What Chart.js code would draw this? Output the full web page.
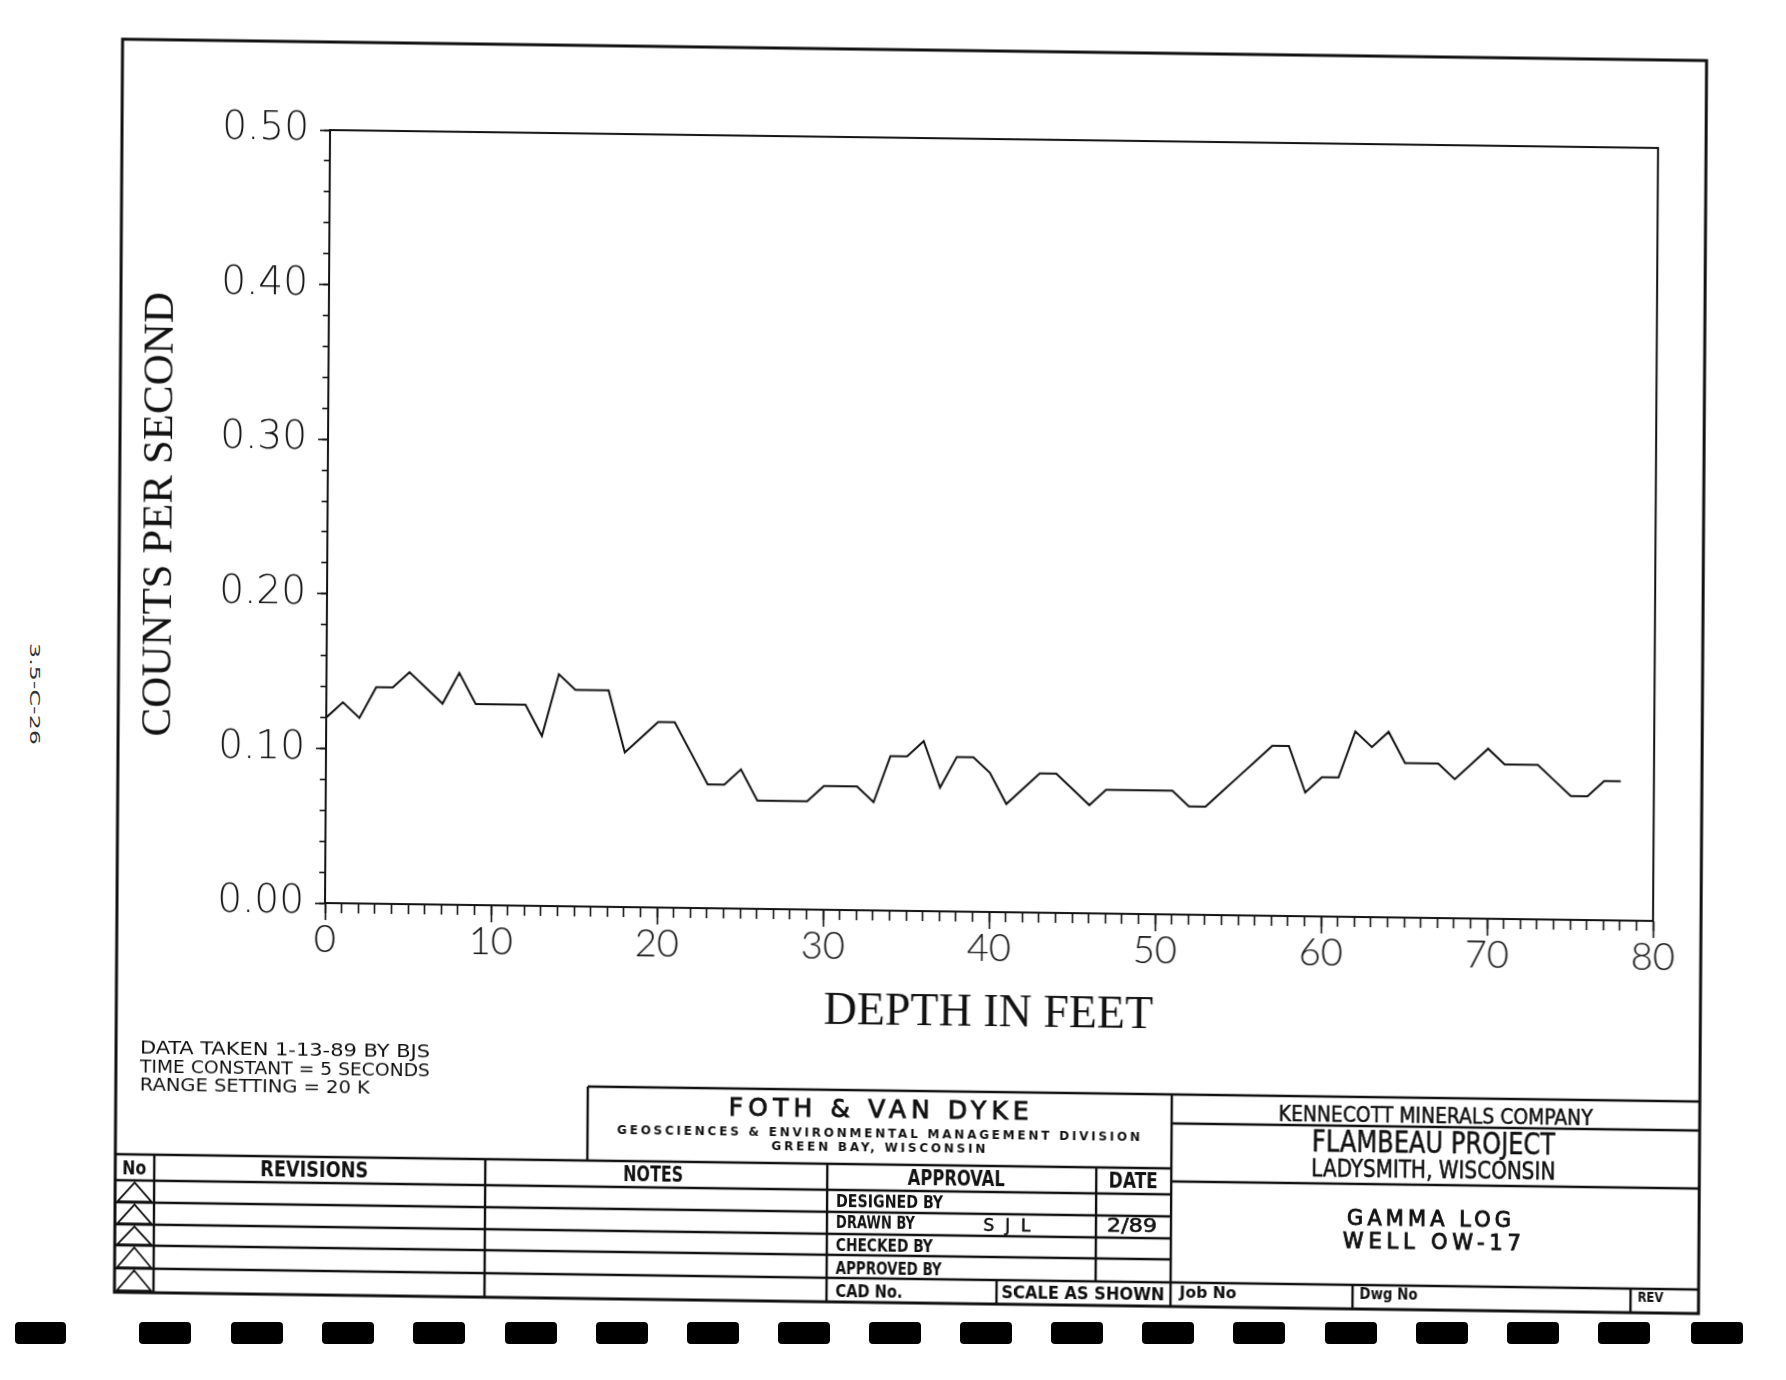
<!DOCTYPE html>
<html lang="en">
<head>
<meta charset="utf-8">
<title>Gamma Log - Well OW-17</title>
<script src="https://cdn.jsdelivr.net/npm/chart.js@4.4.1/dist/chart.umd.min.js"></script>
<style>
    html, body { margin: 0; padding: 0; background: #fff; }
    body { position: relative; width: 1786px; height: 1380px; overflow: hidden; }

    /* the scanned sheet is a bit crooked, so everything drawn on it gets the same shear */
    #sheet {
        position: absolute; left: 0; top: 0; width: 1786px; height: 1380px;
        transform-origin: 325px 903px;
        transform: matrix(1, 0.0135, -0.0065, 1, 0, 0);
    }
    #plot { position: absolute; left: 120px; top: 60px; }
    svg { position: absolute; left: 0; top: 0; }
    #block text { font-family: "DejaVu Sans Condensed", "DejaVu Sans", sans-serif; fill: #111; }
    #block .b { font-weight: bold; }
    #block .w { font-family: "DejaVu Sans", sans-serif; }
    #block .m { stroke: #111; stroke-width: 0.5px; }
    #block .h { stroke: #111; stroke-width: 0.9px; }
</style>
</head>
<body>

<svg id="margin" width="1786" height="1380">
    <text transform="translate(30 694) rotate(90)" text-anchor="middle" font-family="DejaVu Sans" font-size="14"
          textLength="102" lengthAdjust="spacingAndGlyphs" fill="#333">3.5-C-26</text>
    <g fill="#000">
        <rect x="15" y="1322" width="51" height="22" rx="4"/>
        <rect x="139" y="1322" width="52" height="22" rx="4"/>
        <rect x="231" y="1322" width="52" height="22" rx="4"/>
        <rect x="322" y="1322" width="52" height="22" rx="4"/>
        <rect x="413" y="1322" width="52" height="22" rx="4"/>
        <rect x="505" y="1322" width="52" height="22" rx="4"/>
        <rect x="596" y="1322" width="52" height="22" rx="4"/>
        <rect x="687" y="1322" width="52" height="22" rx="4"/>
        <rect x="778" y="1322" width="52" height="22" rx="4"/>
        <rect x="869" y="1322" width="52" height="22" rx="4"/>
        <rect x="960" y="1322" width="52" height="22" rx="4"/>
        <rect x="1051" y="1322" width="52" height="22" rx="4"/>
        <rect x="1142" y="1322" width="52" height="22" rx="4"/>
        <rect x="1233" y="1322" width="52" height="22" rx="4"/>
        <rect x="1325" y="1322" width="52" height="22" rx="4"/>
        <rect x="1416" y="1322" width="52" height="22" rx="4"/>
        <rect x="1507" y="1322" width="52" height="22" rx="4"/>
        <rect x="1598" y="1322" width="52" height="22" rx="4"/>
        <rect x="1691" y="1322" width="52" height="22" rx="4"/>
    </g>
</svg>

<div id="sheet">
    <canvas id="plot" width="1580" height="980"></canvas>

    <svg id="block" width="1786" height="1380">
        <g fill="none" stroke="#111">
            <rect x="117" y="42" width="1584" height="1253" stroke-width="3"/>
            <path stroke-width="2.4" d="M589 1083H1701 M589 1083V1157
                M117 1157H1173 M117 1183H1173 M117 1205H1173 M117 1227H1173 M117 1248H1173 M117 1271H1701
                M156 1157V1295 M487 1157V1295 M829 1157V1295 M1098 1157V1271 M999 1271V1295
                M1173 1083V1295 M1173 1112H1701 M1173 1170H1701 M1355 1271V1295 M1633 1271V1295"/>
            <path stroke-width="1.8" d="M136.5 1185L119.5 1204L153.5 1204Z M136.5 1207L119.5 1226L153.5 1226Z
                M136.5 1229L119.5 1247L153.5 1247Z M136.5 1250L119.5 1270L153.5 1270Z
                M136.5 1273L119.5 1293L153.5 1293Z"/>
        </g>

        <text x="141" y="1056" font-size="18" textLength="290" lengthAdjust="spacingAndGlyphs">DATA TAKEN 1-13-89 BY BJS</text>
        <text x="141" y="1075" font-size="18" textLength="290" lengthAdjust="spacingAndGlyphs">TIME CONSTANT = 5 SECONDS</text>
        <text x="141" y="1093" font-size="18" textLength="230" lengthAdjust="spacingAndGlyphs">RANGE SETTING = 20 K</text>

        <text class="w h" x="880" y="1110" font-size="25" text-anchor="middle" textLength="300" lengthAdjust="spacing">FOTH &amp; VAN DYKE</text>
        <text class="w b" x="880" y="1130" font-size="12" text-anchor="middle" textLength="523" lengthAdjust="spacing">GEOSCIENCES &amp; ENVIRONMENTAL MANAGEMENT DIVISION</text>
        <text class="w b" x="880" y="1144" font-size="12" text-anchor="middle" textLength="214" lengthAdjust="spacing">GREEN BAY, WISCONSIN</text>

        <text class="b" x="136" y="1177" font-size="20" text-anchor="middle" textLength="24" lengthAdjust="spacingAndGlyphs">No</text>
        <text class="b" x="316" y="1177" font-size="22" text-anchor="middle" textLength="108" lengthAdjust="spacingAndGlyphs">REVISIONS</text>
        <text class="b" x="655" y="1177" font-size="22" text-anchor="middle" textLength="60" lengthAdjust="spacingAndGlyphs">NOTES</text>
        <text class="b" x="958" y="1177" font-size="22" text-anchor="middle" textLength="97" lengthAdjust="spacingAndGlyphs">APPROVAL</text>
        <text class="b" x="1135" y="1177" font-size="22" text-anchor="middle" textLength="49" lengthAdjust="spacingAndGlyphs">DATE</text>

        <text class="b" x="838" y="1199.5" font-size="18" textLength="107" lengthAdjust="spacingAndGlyphs">DESIGNED BY</text>
        <text class="b" x="838" y="1221" font-size="18" textLength="79" lengthAdjust="spacingAndGlyphs">DRAWN BY</text>
        <text class="w m" x="1009" y="1222" font-size="17" text-anchor="middle" textLength="47" lengthAdjust="spacing">SJL</text>
        <text class="m" x="1134" y="1221" font-size="19" text-anchor="middle" textLength="50" lengthAdjust="spacingAndGlyphs">2/89</text>
        <text class="b" x="838" y="1244" font-size="18" textLength="97" lengthAdjust="spacingAndGlyphs">CHECKED BY</text>
        <text class="b" x="838" y="1266.5" font-size="18" textLength="106" lengthAdjust="spacingAndGlyphs">APPROVED BY</text>
        <text class="b" x="838" y="1290" font-size="18" textLength="67" lengthAdjust="spacingAndGlyphs">CAD No.</text>
        <text class="b" x="1004" y="1289" font-size="18" textLength="163" lengthAdjust="spacingAndGlyphs">SCALE AS SHOWN</text>

        <text class="m" x="1437" y="1108" font-size="22" text-anchor="middle" textLength="314" lengthAdjust="spacingAndGlyphs">KENNECOTT MINERALS COMPANY</text>
        <text class="m" x="1435" y="1138" font-size="30" text-anchor="middle" textLength="243" lengthAdjust="spacingAndGlyphs">FLAMBEAU PROJECT</text>
        <text class="m" x="1435" y="1163" font-size="25" text-anchor="middle" textLength="244" lengthAdjust="spacingAndGlyphs">LADYSMITH, WISCONSIN</text>
        <text class="w h" x="1431" y="1211" font-size="21" text-anchor="middle" textLength="164" lengthAdjust="spacing">GAMMA LOG</text>
        <text class="w h" x="1434" y="1234" font-size="21" text-anchor="middle" textLength="178" lengthAdjust="spacing">WELL OW-17</text>
        <text class="b" x="1182" y="1286" font-size="16" textLength="57" lengthAdjust="spacingAndGlyphs">Job No</text>
        <text class="b" x="1362" y="1285" font-size="16" textLength="58" lengthAdjust="spacingAndGlyphs">Dwg No</text>
        <text class="b" x="1640" y="1284" font-size="14" textLength="26" lengthAdjust="spacingAndGlyphs">REV</text>
    </svg>
</div>

<script>
// gamma log, one reading per foot of depth
const depthFt = [
    0, 1, 2, 3, 4, 5, 6, 7, 8, 9,
    10, 11, 12, 13, 14, 15, 16, 17, 18, 19,
    20, 21, 22, 23, 24, 25, 26, 27, 28, 29,
    30, 31, 32, 33, 34, 35, 36, 37, 38, 39,
    40, 41, 42, 43, 44, 45, 46, 47, 48, 49,
    50, 51, 52, 53, 54, 55, 56, 57, 58, 59,
    60, 61, 62, 63, 64, 65, 66, 67, 68, 69,
    70, 71, 72, 73, 74, 75, 76, 77, 78
];
const countsPerSec = [
    0.12, 0.13, 0.12, 0.14, 0.14, 0.15, 0.14, 0.13, 0.15, 0.13,
    0.13, 0.13, 0.13, 0.11, 0.15, 0.14, 0.14, 0.14, 0.10, 0.11,
    0.12, 0.12, 0.10, 0.08, 0.08, 0.09, 0.07, 0.07, 0.07, 0.07,
    0.08, 0.08, 0.08, 0.07, 0.10, 0.10, 0.11, 0.08, 0.10, 0.10,
    0.09, 0.07, 0.08, 0.09, 0.09, 0.08, 0.07, 0.08, 0.08, 0.08,
    0.08, 0.08, 0.07, 0.07, 0.08, 0.09, 0.10, 0.11, 0.11, 0.08,
    0.09, 0.09, 0.12, 0.11, 0.12, 0.10, 0.10, 0.10, 0.09, 0.10,
    0.11, 0.10, 0.10, 0.10, 0.09, 0.08, 0.08, 0.09, 0.09
];

const xTickValues = [0, 10, 20, 30, 40, 50, 60, 70, 80];
const xTickLabels = ["0", "10", "20", "30", "40", "50", "60", "70", "80"];
const yTickValues = [0, 0.1, 0.2, 0.3, 0.4, 0.5];
const yTickLabels = ["0.00", "0.10", "0.20", "0.30", "0.40", "0.50"];

const ink = "#111";
const tickFont = { family: "Lato, 'DejaVu Sans', sans-serif", weight: 300, size: 38, lineHeight: 1 };
const yFont = { family: "'DejaVu Sans', Lato, sans-serif", weight: 200, size: 39, lineHeight: 1 };
const serif = "'Liberation Serif', 'Times New Roman', serif";

// a scale that only draws a tick row (or a plain edge) and takes no room
function thin(position, max, opts) {
    return Object.assign({
        type: "linear", position, min: 0, max, weight: 0,
        afterFit: s => { if (s.isHorizontal()) s.height = 0; else s.width = 0; },
        ticks: { display: false },
        grid: { display: false },
        border: { color: ink, width: 2 }
    }, opts);
}

new Chart(document.getElementById("plot"), {
    type: "line",
    data: {
        datasets: [{
            data: depthFt.map((d, i) => ({ x: d, y: countsPerSec[i] })),
            borderColor: ink,
            borderWidth: 2,
            pointRadius: 0,
            tension: 0,
            fill: false
        }]
    },
    options: {
        responsive: false,
        animation: false,
        events: [],
        layout: { padding: { top: 70, right: 47, bottom: 0, left: 0 } },
        plugins: { legend: { display: false }, tooltip: { enabled: false } },
        scales: {
            x: {
                type: "linear", position: "bottom", weight: 1, min: 0, max: 80,
                afterBuildTicks: s => { s.ticks = xTickValues.map(value => ({ value })); },
                afterFit: s => { s.height = 137; },
                ticks: { color: ink, font: tickFont, padding: 1, maxRotation: 0, autoSkip: false,
                         callback: (v, i) => xTickLabels[i] },
                grid: { drawOnChartArea: false, tickLength: 17, tickWidth: 1.6, tickColor: ink },
                border: { color: ink, width: 2 },
                title: { display: true, text: "DEPTH IN FEET", color: ink,
                         font: { family: serif, size: 46, lineHeight: 1.2 }, padding: { top: 0, bottom: 7 } }
            },
            y: {
                type: "linear", position: "left", weight: 1, min: 0, max: 0.5,
                afterBuildTicks: s => { s.ticks = yTickValues.map(value => ({ value })); },
                afterFit: s => { s.width = 205; },
                ticks: { color: ink, font: yFont, padding: 11, callback: (v, i) => yTickLabels[i] },
                grid: { drawOnChartArea: false, tickLength: 10, tickWidth: 1.6, tickColor: ink },
                border: { color: ink, width: 2 },
                title: { display: true, text: "COUNTS PER SECOND", color: ink,
                         font: { family: serif, size: 43, lineHeight: 1.2 }, padding: { top: 12, bottom: 0 } }
            },
            xMinor: thin("bottom", 80, {
                ticks: { display: false, stepSize: 1 },
                grid: { display: true, drawOnChartArea: false, tickLength: 10, tickWidth: 1.6, tickColor: ink },
                border: { display: false }
            }),
            yMinor: thin("left", 0.5, {
                ticks: { display: false, stepSize: 0.02 },
                grid: { display: true, drawOnChartArea: false, tickLength: 6, tickWidth: 1.6, tickColor: ink },
                border: { display: false }
            }),
            xTop: thin("top", 80),
            yRight: thin("right", 0.5)
        }
    }
});
</script>
</body>
</html>
